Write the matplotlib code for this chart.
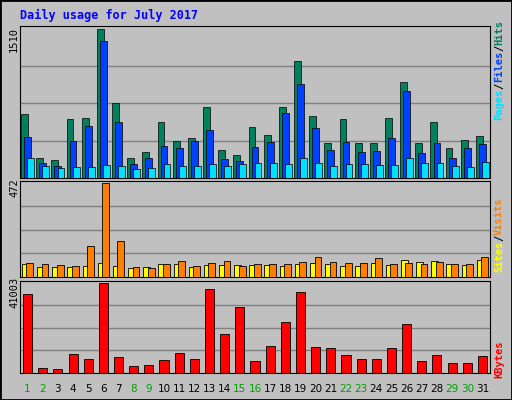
import matplotlib.pyplot as plt
from matplotlib.patches import Rectangle

days = list(range(1, 32))
weekends = [1, 2, 8, 9, 15, 16, 22, 23, 29, 30]

# top panel, read as pixel tops then scaled to max 1510
hits_px = [113, 157, 159, 118, 117, 29, 102, 157, 151, 121, 140, 137, 106, 149, 154, 126,
           134, 106, 61, 115, 142, 118, 142, 142, 117, 82, 142, 121, 147, 139, 135]
files_px = [136, 162, 165, 140, 125, 41, 121, 163, 157, 145, 147, 140, 129, 158, 160, 146,
            141, 112, 84, 127, 149, 141, 151, 150, 137, 91, 152, 142, 157, 147, 143]
pages_px = [157, 165, 167, 166, 166, 164, 165, 168, 167, 163, 165, 165, 163, 165, 163, 162,
            162, 163, 157, 162, 165, 163, 163, 164, 164, 157, 162, 162, 165, 166, 161]
hits = [round((177 - y) * 1510 / 148) for y in hits_px]
files = [round((177 - y) * 1510 / 148) for y in files_px]
pages = [round((177 - y) * 1510 / 148) for y in pages_px]

sites_z = [253, 262, 262, 262, 259, 250, 259, 265, 262, 253, 253, 262, 256, 256, 256, 256,
           256, 259, 253, 250, 253, 259, 259, 250, 256, 241, 247, 244, 253, 256, 241]
visits_z = [250, 253, 256, 259, 199, 13, 184, 262, 265, 253, 244, 259, 250, 244, 259, 253,
            253, 253, 247, 232, 247, 250, 250, 235, 253, 250, 253, 247, 253, 253, 232]
sites = [round((290 - z) * 472 / 277) for z in sites_z]
visits = [round((290 - z) * 472 / 277) for z in visits_z]

kb_px = [295, 367, 368, 353, 358, 284, 356, 365, 364, 359, 352, 358, 290, 334, 308, 360,
         346, 322, 293, 347, 348, 354, 358, 358, 348, 324, 360, 354, 362, 362, 355]
kbytes = [round((372 - y) * 41003 / 88) for y in kb_px]

W, H = 512, 400
fig = plt.figure(figsize=(5.12, 4), dpi=100)
fig.patch.set_facecolor('#C0C0C0')
fig.add_artist(Rectangle((0, 0), 1, 1, transform=fig.transFigure, fill=False, lw=2, ec='black'))

fig.text(20 / W, 1 - 15 / H, 'Daily usage for July 2017', color='#0000FF',
         fontfamily='DejaVu Sans Mono', fontweight='bold', fontsize=8.5, va='center')


def panel(top, bottom, ymax):
    ax = fig.add_axes([20 / W, 1 - bottom / H, 470 / W, (bottom - top) / H])
    ax.set_facecolor('#C0C0C0')
    ax.set_xlim(0.5, 31.5)
    ax.set_ylim(0, ymax * 1.02)
    ax.set_xticks([])
    ax.set_yticks([])
    for f in (0.25, 0.5, 0.75):
        ax.axhline(ymax * f, color='#808080', lw=1, zorder=0)
    for s in ax.spines.values():
        s.set_color('black')
    return ax


ax1 = panel(26, 178, 1510)
bw = 0.45
ax1.bar([d - 0.2 for d in days], hits, bw, color='#00805C', ec='black', lw=0.5, zorder=2)
ax1.bar(days, files, bw, color='#0040FF', ec='black', lw=0.5, zorder=3)
ax1.bar([d + 0.2 for d in days], pages, bw, color='#00E0FF', ec='black', lw=0.5, zorder=4)

ax2 = panel(181, 277, 472)
ax2.bar([d - 0.15 for d in days], sites, 0.45, color='#FFFF00', ec='black', lw=0.6, zorder=2)
ax2.bar([d + 0.15 for d in days], visits, 0.45, color='#FF8000', ec='black', lw=0.6, zorder=3)

ax3 = panel(281, 373, 41003)
ax3.bar(days, kbytes, 0.6, color='#FF0000', ec='black', lw=0.6, zorder=2)

mono = dict(fontfamily='DejaVu Sans Mono', fontsize=7.5, rotation=90)
fig.text(14 / W, 1 - 40 / H, '1510', ha='center', va='center', **mono)
fig.text(14 / W, 1 - 188 / H, '472', ha='center', va='center', **mono)
fig.text(14 / W, 1 - 292 / H, '41003', ha='center', va='center', **mono)

renderer = fig.canvas.get_renderer()


# right-hand legends, stacked bottom-to-top using measured heights
def vlegend(y0, parts):
    y = y0
    for txt, col in parts:
        t = fig.text(499 / W, 1 - y / H, txt, color=col, ha='center', va='bottom',
                     fontweight='bold', **mono)
        y -= t.get_window_extent(renderer).height


vlegend(120, [('Pages', '#00E0FF'), ('/', 'black'), ('Files', '#0040FF'), ('/', 'black'), ('Hits', '#00805C')])
vlegend(272, [('Sites', '#FFFF00'), ('/', 'black'), ('Visits', '#FF8000')])
vlegend(378, [('KBytes', '#FF0000')])

for d in days:
    col = '#00A000' if d in weekends else 'black'
    fig.text((20 + (d - 0.5) * 470 / 31) / W, 1 - 389 / H, str(d), color=col,
             ha='center', va='center', fontsize=7.5)

fig.savefig('out.png', dpi=100, facecolor=fig.get_facecolor())
